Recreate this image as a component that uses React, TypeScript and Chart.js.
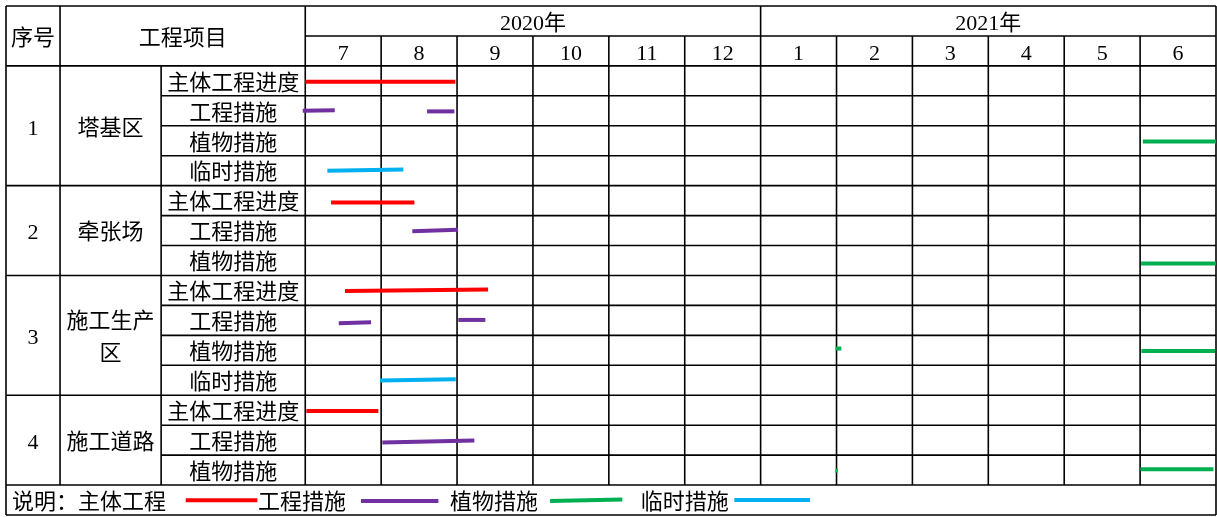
import { useEffect, useRef } from 'react';
import { Chart, registerables } from 'chart.js';

Chart.register(...registerables);

// ---------- data ----------
const yearLabels = ['2020年', '2021年'];
const monthLabels = ['7', '8', '9', '10', '11', '12', '1', '2', '3', '4', '5', '6'];
const headerNo = '序号';
const headerItem = '工程项目';
const groupNumbers = ['1', '2', '3', '4'];
const groupNames = [['塔基区'], ['牵张场'], ['施工生产', '区'], ['施工道路']];
const groupItems = [
  ['主体工程进度', '工程措施', '植物措施', '临时措施'],
  ['主体工程进度', '工程措施', '植物措施'],
  ['主体工程进度', '工程措施', '植物措施', '临时措施'],
  ['主体工程进度', '工程措施', '植物措施'],
];
const legendPrefix = '说明：';
const seriesNames = ['主体工程', '工程措施', '植物措施', '临时措施'];
const seriesColors = ['#FF0000', '#7030A0', '#00B050', '#00B0F0'];

// segments: [fromMonth, fromRow, toMonth, toRow]
// months counted from the start of July 2020; rows counted from the table top
const mainWorks = [
  [0.0, 2.53, 1.978, 2.53],
  [0.34, 6.561, 1.438, 6.561],
  [0.524, 9.515, 2.409, 9.469],
  [0.014, 13.526, 0.963, 13.526],
];
const engineeringMeasures = [
  [-0.033, 3.5, 0.389, 3.48],
  [1.605, 3.52, 1.965, 3.52],
  [1.411, 7.52, 2.013, 7.477],
  [0.441, 10.595, 0.867, 10.562],
  [2.017, 10.485, 2.373, 10.485],
  [1.016, 14.58, 2.228, 14.515],
];
const plantMeasures = [
  [11.036, 4.522, 12.0, 4.522],
  [11.013, 8.6, 12.0, 8.6],
  [6.985, 11.44, 7.064, 11.44],
  [11.017, 11.52, 11.988, 11.52],
  [6.985, 15.518, 7.017, 15.518],
  [11.004, 15.475, 11.966, 15.475],
];
const temporaryMeasures = [
  [0.291, 5.5, 1.293, 5.46],
  [0.986, 12.51, 1.983, 12.467],
];
const seriesSegments = [mainWorks, engineeringMeasures, plantMeasures, temporaryMeasures];

// ---------- layout (in scale units) ----------
const X_LEFT = -3.943;
const X_NUM = -3.231;
const X_ITEM = -1.899;
const X_MONTH = 0;
const X_RIGHT = 12;
const TOTAL_ROWS = 17;
const DATA_ROW_START = 2;
const LEGEND_ROW = 16;
// legend: text start x, sample line from/to x, line y
const legendTextX = [-3.863, -0.622, 1.908, 4.421];
const legendLines = [
  [-1.575, 16.51, -0.631, 16.51],
  [0.735, 16.53, 1.754, 16.53],
  [3.226, 16.53, 4.178, 16.48],
  [5.654, 16.5, 6.652, 16.5],
];

const FONT = '22px "Liberation Serif", "Noto Sans CJK SC", serif';
const TEXT_DY = 3;

const tablePlugin = {
  id: 'tablePlugin',
  beforeDraw(chart: any) {
    const { ctx, width, height } = chart;
    ctx.save();
    ctx.fillStyle = '#ffffff';
    ctx.fillRect(0, 0, width, height);
    ctx.restore();
  },
  beforeDatasetsDraw(chart: any) {
    const { ctx } = chart;
    const xs = chart.scales.x;
    const ys = chart.scales.y;
    const px = (v: number) => xs.getPixelForValue(v);
    const py = (v: number) => ys.getPixelForValue(v);
    ctx.save();
    ctx.strokeStyle = '#000000';
    ctx.lineWidth = 1.6;
    const line = (x0: number, y0: number, x1: number, y1: number) => {
      ctx.beginPath();
      ctx.moveTo(px(x0), py(y0));
      ctx.lineTo(px(x1), py(y1));
      ctx.stroke();
    };
    // horizontal lines
    line(X_LEFT, 0, X_RIGHT, 0);
    line(X_MONTH, 1, X_RIGHT, 1);
    line(X_LEFT, DATA_ROW_START, X_RIGHT, DATA_ROW_START);
    let r = DATA_ROW_START;
    groupItems.forEach((items) => {
      for (let i = 1; i < items.length; i++) line(X_ITEM, r + i, X_RIGHT, r + i);
      r += items.length;
      line(X_LEFT, r, X_RIGHT, r);
    });
    line(X_LEFT, TOTAL_ROWS, X_RIGHT, TOTAL_ROWS);
    // vertical lines
    line(X_LEFT, 0, X_LEFT, TOTAL_ROWS);
    line(X_RIGHT, 0, X_RIGHT, TOTAL_ROWS);
    line(X_NUM, 0, X_NUM, LEGEND_ROW);
    line(X_ITEM, DATA_ROW_START, X_ITEM, LEGEND_ROW);
    line(X_MONTH, 0, X_MONTH, LEGEND_ROW);
    for (let m = 1; m < monthLabels.length; m++) {
      line(X_MONTH + m, m === 6 ? 0 : 1, X_MONTH + m, LEGEND_ROW);
    }

    // text
    ctx.fillStyle = '#000000';
    ctx.font = FONT;
    ctx.textBaseline = 'middle';
    ctx.textAlign = 'center';
    const textAt = (t: string, x: number, y: number) => {
      ctx.fillText(t, px(x), py(y) + TEXT_DY);
    };
    textAt(headerNo, (X_LEFT + X_NUM) / 2, 1);
    textAt(headerItem, (X_NUM + X_MONTH) / 2, 1);
    yearLabels.forEach((t, i) => textAt(t, X_MONTH + i * 6 + 3, 0.5));
    monthLabels.forEach((t, i) => textAt(t, X_MONTH + i + 0.5, 1.5));
    r = DATA_ROW_START;
    groupItems.forEach((items, g) => {
      const mid = r + items.length / 2;
      textAt(groupNumbers[g], (X_LEFT + X_NUM) / 2, mid);
      const names = groupNames[g];
      names.forEach((n, k) => {
        textAt(n, (X_NUM + X_ITEM) / 2, mid + (k - (names.length - 1) / 2) * 1.05);
      });
      items.forEach((it, i) => textAt(it, (X_ITEM + X_MONTH) / 2, r + i + 0.5));
      r += items.length;
    });
    // legend
    ctx.textAlign = 'left';
    seriesNames.forEach((n, i) => {
      const t = i === 0 ? legendPrefix + n : n;
      textAt(t, legendTextX[i], LEGEND_ROW + 0.5);
    });
    ctx.restore();
  },
};

export default function App() {
  const canvasRef = useRef<HTMLCanvasElement | null>(null);

  useEffect(() => {
    if (!canvasRef.current) return;
    const datasets: any[] = [];
    const makeSet = (label: string, s: number[], color: string) => ({
      label,
      data: [
        { x: s[0], y: s[1] },
        { x: s[2], y: s[3] },
      ],
      showLine: true,
      borderColor: color,
      backgroundColor: color,
      borderWidth: 4,
      borderCapStyle: 'butt',
      pointRadius: 0,
      pointHoverRadius: 0,
      fill: false,
      tension: 0,
      clip: false,
    });
    seriesSegments.forEach((segs, si) => {
      segs.forEach((s, k) => datasets.push(makeSet(seriesNames[si] + k, s, seriesColors[si])));
    });
    legendLines.forEach((s, si) => datasets.push(makeSet('legend' + si, s, seriesColors[si])));

    const chart = new Chart(canvasRef.current, {
      type: 'scatter',
      data: { datasets },
      options: {
        animation: false,
        responsive: true,
        maintainAspectRatio: false,
        events: [],
        layout: { padding: { left: 6, top: 6, right: 1, bottom: 2 } },
        plugins: {
          legend: { display: false },
          tooltip: { enabled: false },
          title: { display: false },
        },
        scales: {
          x: { type: 'linear', min: X_LEFT, max: X_RIGHT, display: false },
          y: { type: 'linear', min: 0, max: TOTAL_ROWS, reverse: true, display: false },
        },
      },
      plugins: [tablePlugin],
    });
    return () => chart.destroy();
  }, []);

  return (
    <div style={{ position: 'fixed', left: 0, top: 0, width: 1217, height: 517, background: '#fff' }}>
      <canvas ref={canvasRef} />
    </div>
  );
}
